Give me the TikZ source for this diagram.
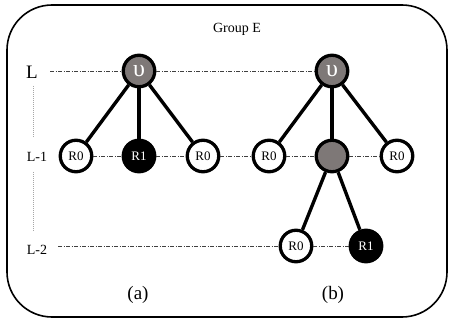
\documentclass[tikz,border=0pt]{standalone}
\usepackage{fontspec}
\setmainfont{Liberation Serif}
\definecolor{nodegray}{RGB}{126,120,119}
\begin{document}
\begin{tikzpicture}[x=1pt,y=-1pt,
  level/.style={draw=black!75,line width=0.6pt,dash pattern=on 4pt off 1.5pt on 1pt off 1.5pt},
  guide/.style={draw=black!35,line width=0.5pt,dash pattern=on 1pt off 1pt},
  tie/.style={draw=black,line width=3.4pt},
  vertex/.style={circle,draw=black,line width=3.3pt,minimum size=31.5pt,inner sep=0pt,font=\fontsize{13}{13}\selectfont},
  rzero/.style={vertex,fill=white,text=black},
  rone/.style={vertex,fill=black,text=white},
  inner/.style={vertex,fill=nodegray,text=white,font=\fontsize{24}{24}\selectfont},
  lvl/.style={font=\fontsize{14}{14}\selectfont},
  caption/.style={font=\fontsize{19}{19}\selectfont}]
\useasboundingbox (0,0) rectangle (451,321);
% frame
\draw[line width=1.6pt,rounded corners=45pt] (7,5) rectangle (447,317);
\node[font=\fontsize{14}{14}\selectfont] (title) at (237,29) {Group E};
% level labels and guide
\node[font=\fontsize{19}{19}\selectfont] (lL) at (32,72) {L};
\node[lvl] (lL1) at (37,157) {L-1};
\node[lvl] (lL2) at (37,250) {L-2};
\draw[guide] (33,86) -- (33,138);
\draw[guide] (33,172) -- (33,232);
% tree nodes
\node[inner] (ta) at (139,71) {υ};
\node[rzero] (a1) at (76,156) {R0};
\node[rone] (a2) at (139,156) {R1};
\node[rzero] (a3) at (203,156) {R0};
\node[inner] (tb) at (332,71) {υ};
\node[rzero] (b1) at (269,156) {R0};
\node[inner] (b2) at (332,156) {};
\node[rzero] (b3) at (397,156) {R0};
\node[rzero] (c1) at (296,246) {R0};
\node[rone] (c2) at (366,246) {R1};
% level lines
\coordinate (sL) at (50,71);
\coordinate (sL2) at (58,246);
\draw[level] (sL) -- (ta.west);
\draw[level] (ta.east) -- (tb.west);
\draw[level] (a1.east) -- (a2.west);
\draw[level] (a2.east) -- (a3.west);
\draw[level] (a3.east) -- (b1.west);
\draw[level] (b1.east) -- (b2.west);
\draw[level] (b2.east) -- (b3.west);
\draw[level] (sL2) -- (c1.west);
\draw[level] (c1.east) -- (c2.west);
% edges
\draw[tie] (ta) -- (a1);
\draw[tie] (ta) -- (a2);
\draw[tie] (ta) -- (a3);
\draw[tie] (tb) -- (b1);
\draw[tie] (tb) -- (b2);
\draw[tie] (tb) -- (b3);
\draw[tie] (b2) -- (c1);
\draw[tie] (b2) -- (c2);
% captions
\node[caption] (capa) at (138,295) {(a)};
\node[caption] (capb) at (333,295) {(b)};
\end{tikzpicture}
\end{document}
